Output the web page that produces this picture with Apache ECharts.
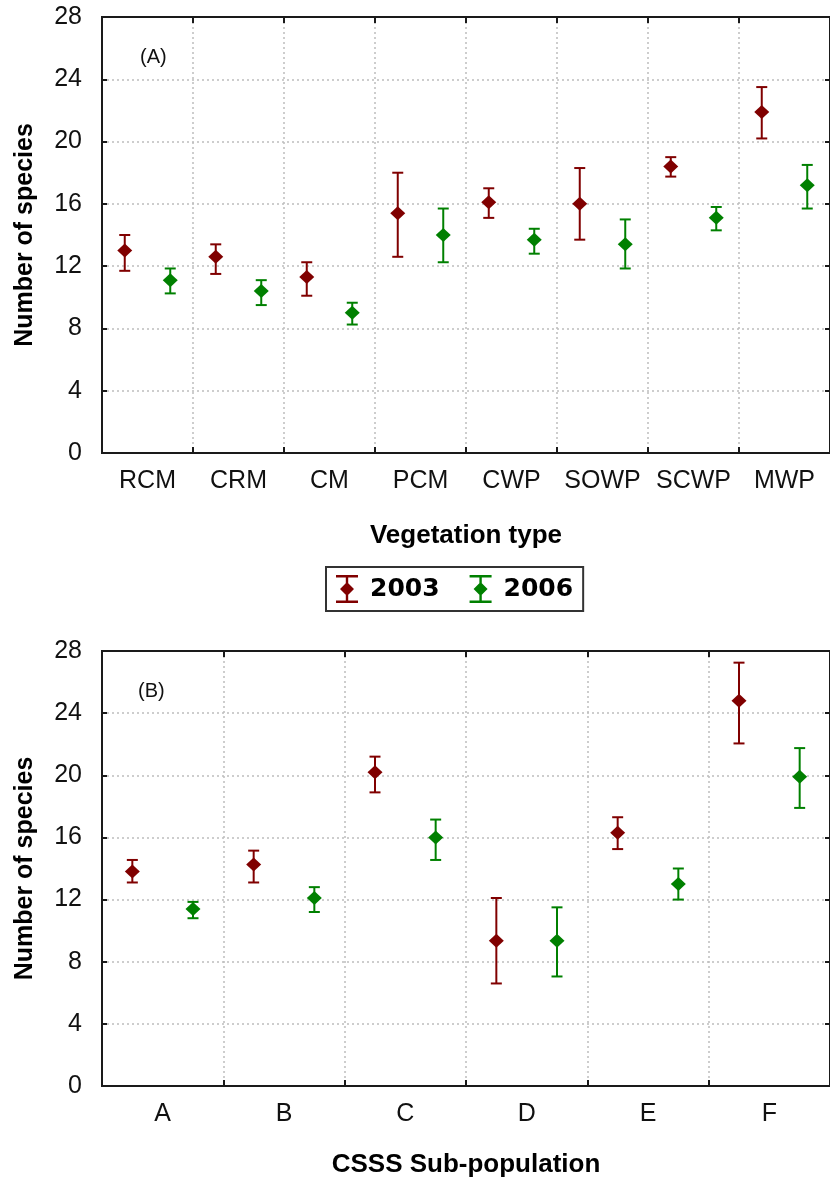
<!DOCTYPE html>
<html>
<head>
<meta charset="utf-8">
<script src="https://cdn.jsdelivr.net/npm/echarts@6/dist/echarts.min.js"></script>
<style>
html,body{margin:0;padding:0;background:#fff;}
#chart{width:830px;height:1181px;}
</style>
</head>
<body>
<div id="chart"></div>
<script>
// ---- Data ----
var vegTypes = ['RCM', 'CRM', 'CM', 'PCM', 'CWP', 'SOWP', 'SCWP', 'MWP'];
var veg2003Mean = [13.0, 12.6, 11.3, 15.4, 16.1, 16.0, 18.4, 21.9];
var veg2003Low  = [11.7, 11.5, 10.1, 12.6, 15.1, 13.7, 17.75, 20.2];
var veg2003High = [14.0, 13.4, 12.25, 18.0, 17.0, 18.3, 19.0, 23.5];
var veg2006Mean = [11.1, 10.4, 9.0, 14.0, 13.7, 13.4, 15.1, 17.2];
var veg2006Low  = [10.25, 9.5, 8.25, 12.25, 12.8, 11.85, 14.3, 15.7];
var veg2006High = [11.85, 11.1, 9.65, 15.7, 14.4, 15.0, 15.8, 18.5];

var subPops = ['A', 'B', 'C', 'D', 'E', 'F'];
var sub2003Mean = [13.8, 14.25, 20.2, 9.35, 16.3, 24.8];
var sub2003Low  = [13.1, 13.1, 18.9, 6.6, 15.25, 22.05];
var sub2003High = [14.55, 15.15, 21.2, 12.1, 17.3, 27.25];
var sub2006Mean = [11.4, 12.1, 16.0, 9.35, 13.0, 19.9];
var sub2006Low  = [10.8, 11.2, 14.55, 7.05, 12.0, 17.9];
var sub2006High = [11.85, 12.8, 17.15, 11.5, 14.0, 21.75];

var yMin = 0, yMax = 28, yInterval = 4;
var seriesNames = ['2003', '2006'];
var xNames = ['Vegetation type', 'CSSS Sub-population'];
var panelLabels = ['(A)', '(B)'];

// ---- Styling ----
var RED = '#800000', GREEN = '#008000';
var FONT = "'Liberation Sans', Arial, sans-serif";

function rows(mean, low, high) {
  return mean.map(function (m, i) { return [i, m, low[i], high[i]]; });
}

function makeRender(sign, color) {
  return function (params, api) {
    var i = api.value(0);
    var bw = api.size([1, 0])[0];
    var pm = api.coord([i, api.value(1)]);
    var x = pm[0] + sign * bw / 4;
    var ym = pm[1];
    var yl = api.coord([i, api.value(2)])[1];
    var yh = api.coord([i, api.value(3)])[1];
    var cw = 5.5, dw = 7.5, dh = 7;
    var ls = { stroke: color, lineWidth: 2 };
    return {
      type: 'group',
      children: [
        { type: 'line', shape: { x1: x, y1: yl, x2: x, y2: yh }, style: ls },
        { type: 'line', shape: { x1: x - cw, y1: yh, x2: x + cw, y2: yh }, style: ls },
        { type: 'line', shape: { x1: x - cw, y1: yl, x2: x + cw, y2: yl }, style: ls },
        { type: 'polygon', shape: { points: [[x, ym - dh], [x + dw, ym], [x, ym + dh], [x - dw, ym]] }, style: { fill: color } }
      ]
    };
  };
}

var grids = [
  { left: 102, top: 17, width: 731, height: 436 },
  { left: 102, top: 651, width: 733, height: 435 }
];
grids.forEach(function (g) {
  g.show = true; g.borderColor = '#1a1a1a'; g.borderWidth = 2; g.backgroundColor = 'transparent';
});

var cats = [vegTypes, subPops];
var nameGaps = [70, 66];
var xAxes = [], yAxes = [];
cats.forEach(function (c, gi) {
  xAxes.push({
    type: 'category', gridIndex: gi, data: c, boundaryGap: true, position: 'bottom', z: 1,
    name: xNames[gi], nameLocation: 'middle', nameGap: nameGaps[gi],
    nameTextStyle: { fontFamily: FONT, fontWeight: 'bold', fontSize: 26, color: '#000' },
    axisLine: { show: true, onZero: false, lineStyle: { color: '#1a1a1a', width: 2 } },
    axisTick: { show: true, inside: true, length: 6, lineStyle: { color: '#1a1a1a', width: 2 } },
    axisLabel: { fontFamily: FONT, fontSize: 25, color: '#111', margin: 16, interval: 0 },
    splitLine: { show: true, lineStyle: { color: '#bdbdbd', type: [2, 3], width: 1.5 } }
  });
  xAxes.push({
    type: 'category', gridIndex: gi, data: c, boundaryGap: true, position: 'top', z: 6,
    axisLine: { show: true, onZero: false, lineStyle: { color: '#1a1a1a', width: 2 } },
    axisTick: { show: true, inside: true, length: 6, lineStyle: { color: '#1a1a1a', width: 2 } },
    axisLabel: { show: false }, splitLine: { show: false }
  });
  yAxes.push({
    type: 'value', gridIndex: gi, min: yMin, max: yMax, interval: yInterval, position: 'left', z: 1,
    name: 'Number of species', nameLocation: 'middle', nameGap: 64, nameRotate: 90,
    nameTextStyle: { fontFamily: FONT, fontWeight: 'bold', fontSize: 25, color: '#000' },
    axisLine: { show: true, onZero: false, lineStyle: { color: '#1a1a1a', width: 2 } },
    axisTick: { show: true, inside: true, length: 5, lineStyle: { color: '#1a1a1a', width: 2 } },
    axisLabel: { fontFamily: FONT, fontSize: 25, color: '#111', margin: 20 },
    splitLine: { show: true, lineStyle: { color: '#bdbdbd', type: [2, 3], width: 1.5 } }
  });
  yAxes.push({
    type: 'value', gridIndex: gi, min: yMin, max: yMax, interval: yInterval, position: 'right', z: 6,
    axisLine: { show: true, onZero: false, lineStyle: { color: '#1a1a1a', width: 2 } },
    axisTick: { show: true, inside: true, length: 5, lineStyle: { color: '#1a1a1a', width: 2 } },
    axisLabel: { show: false }, splitLine: { show: false }
  });
});

var datasets = [
  [rows(veg2003Mean, veg2003Low, veg2003High), rows(veg2006Mean, veg2006Low, veg2006High)],
  [rows(sub2003Mean, sub2003Low, sub2003High), rows(sub2006Mean, sub2006Low, sub2006High)]
];
var colors = [RED, GREEN];
var series = [];
datasets.forEach(function (pair, gi) {
  pair.forEach(function (d, si) {
    series.push({
      type: 'custom', name: seriesNames[si], xAxisIndex: gi * 2, yAxisIndex: gi * 2,
      data: d, encode: { x: 0, y: [1, 2, 3] }, color: colors[si],
      renderItem: makeRender(si === 0 ? -1 : 1, colors[si]), clip: false, z: 8
    });
  });
});

var legendIcon = 'path://M1,0H23V2.5H1Z M1,25.5H23V28H1Z M10.8,0H13.2V28H10.8Z M12,7L19,14L12,21L5,14Z';

var option = {
  animation: false,
  backgroundColor: '#fff',
  title: [
    { text: panelLabels[0], left: 135, top: 42, textStyle: { fontFamily: FONT, fontSize: 20, fontWeight: 'normal', color: '#111' } },
    { text: panelLabels[1], left: 133, top: 676, textStyle: { fontFamily: FONT, fontSize: 20, fontWeight: 'normal', color: '#111' } }
  ],
  legend: {
    data: [
      { name: '2003', icon: legendIcon },
      { name: '2006', icon: legendIcon }
    ],
    left: 326, top: 567, itemWidth: 24, itemHeight: 28, itemGap: 30,
    padding: [8, 10, 8, 10],
    borderColor: '#333', borderWidth: 2,
    textStyle: { fontFamily: "'DejaVu Sans', sans-serif", fontWeight: 'bold', fontSize: 25, color: '#000', padding: [0, 0, 0, 6] },
    selectedMode: false
  },
  grid: grids,
  xAxis: xAxes,
  yAxis: yAxes,
  series: series
};

var chart = echarts.init(document.getElementById('chart'), null, { renderer: 'canvas' });
chart.setOption(option);
</script>
</body>
</html>
